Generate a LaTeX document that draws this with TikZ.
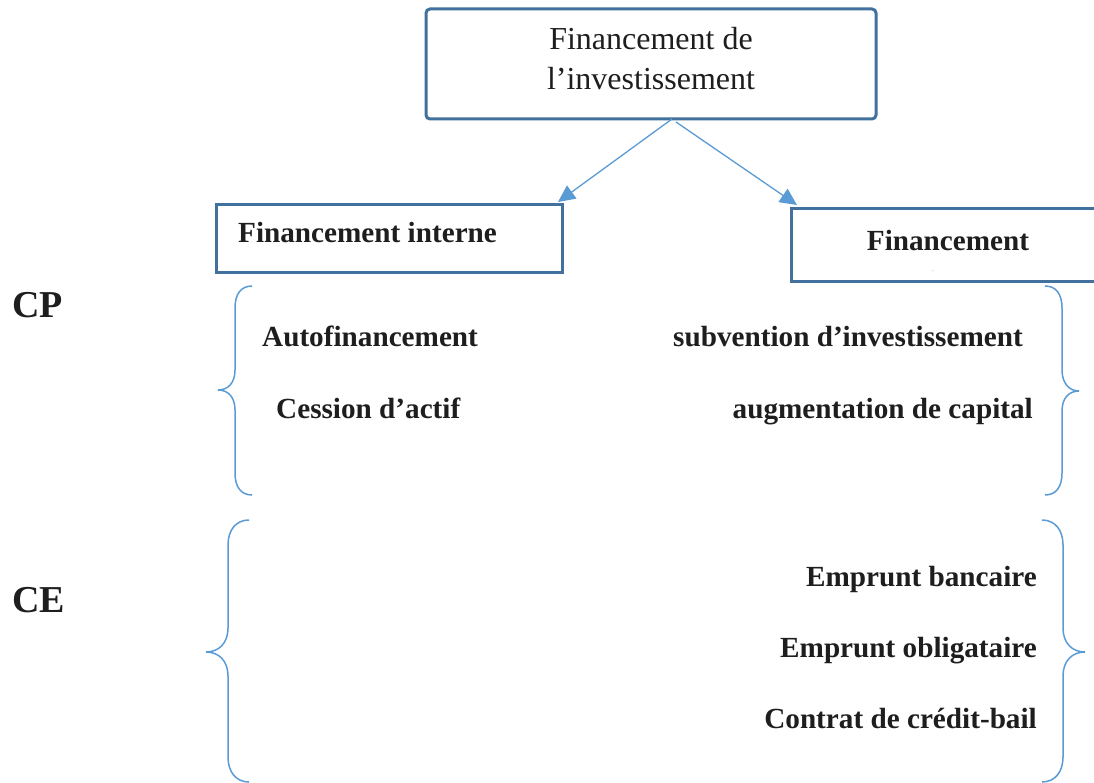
\documentclass[tikz,border=0pt]{standalone}
\usepackage{fontspec}
\setmainfont{Liberation Serif}
\usetikzlibrary{arrows.meta}
\definecolor{boxblue}{RGB}{65,113,156}
\definecolor{lineblue}{RGB}{91,155,213}
\definecolor{txt}{RGB}{30,30,30}
\tikzset{
  frame/.style={draw=boxblue, line width=3pt, outer sep=0pt, inner sep=0pt},
  conn/.style={draw=lineblue, line width=1.3pt, -{Triangle[length=17pt,width=16pt]}},
  brace/.style={draw=lineblue, line width=1.5pt},
  itemtxt/.style={font=\fontsize{29.2}{34}\bfseries\selectfont, text=txt, inner sep=0pt},
  titletxt/.style={font=\fontsize{32}{38}\selectfont, text=txt, inner sep=0pt},
  sidetxt/.style={font=\fontsize{38}{44}\bfseries\selectfont, text=txt, inner sep=0pt}
}
\begin{document}
\begin{tikzpicture}[x=1pt,y=-1pt]
\useasboundingbox (0,0) rectangle (1094,783);
\fill[white] (0,0) rectangle (1094,783);

% boxes
\node[frame, rounded corners=4pt, minimum width=450pt, minimum height=110pt] (top) at (651,64) {};
\node[titletxt, anchor=base] (t1) at (651,50) {Financement de};
\node[titletxt, anchor=base] (t2) at (651,90) {l’investissement};

\node[frame, minimum width=346pt, minimum height=68pt] (left) at (389,239) {};
\node[itemtxt, anchor=base west] (lt) at (238,243) {Financement interne};

\node[frame, minimum width=320pt, minimum height=73pt] (right) at (951,245.5) {};
\node[itemtxt, anchor=base] (rt) at (948,251) {Financement};
\node[font=\fontsize{5}{6}\selectfont, text=txt, inner sep=0pt, anchor=base] (rdot) at (933,272) {.};

% connectors
\draw[conn] ([xshift=21pt]top.south) -- ([xshift=-4pt,yshift=3pt]left.north east);
\draw[conn] ([xshift=25pt,yshift=-3pt]top.south) -- ([xshift=6pt,yshift=4pt]right.north west);

% side labels
\node[sidetxt, anchor=base west] (cp) at (12,318) {CP};
\node[sidetxt, anchor=base west] (ce) at (12,612) {CE};

% CP items
\node[itemtxt, anchor=base west] (a1) at (262,346) {Autofinancement};
\node[itemtxt, anchor=base west] (a2) at (276,418) {Cession d’actif};
\node[itemtxt, anchor=base east] (b1) at (1023,346) {subvention d’investissement};
\node[itemtxt, anchor=base east] (b2) at (1033,418) {augmentation de capital};

% CE items
\node[itemtxt, anchor=base east] (c1) at (1037,586) {Emprunt bancaire};
\node[itemtxt, anchor=base east] (c2) at (1037,657) {Emprunt obligataire};
\node[itemtxt, anchor=base east] (c3) at (1037,728) {Contrat de crédit-bail};

% braces CP
\draw[brace] (252,286) .. controls (241,286) and (235,294) .. (235,308)
  -- (235,370) .. controls (235,383) and (228,390) .. (218,390)
  .. controls (228,390) and (235,397) .. (235,410)
  -- (235,473) .. controls (235,487) and (241,495) .. (252,495);
\draw[brace] (1045,286) .. controls (1056,286) and (1062,294) .. (1062,308)
  -- (1062,370) .. controls (1062,383) and (1069,391) .. (1079,391)
  .. controls (1069,391) and (1062,398) .. (1062,411)
  -- (1062,473) .. controls (1062,487) and (1056,495) .. (1045,495);
% braces CE
\draw[brace] (249,520) .. controls (236,520) and (228,530) .. (228,545)
  -- (228,628) .. controls (228,643) and (219,652) .. (206,652)
  .. controls (219,652) and (228,661) .. (228,676)
  -- (228,757) .. controls (228,772) and (236,782) .. (249,782);
\draw[brace] (1042,520) .. controls (1055,520) and (1063,530) .. (1063,545)
  -- (1063,628) .. controls (1063,643) and (1072,652) .. (1085,652)
  .. controls (1072,652) and (1063,661) .. (1063,676)
  -- (1063,757) .. controls (1063,772) and (1055,782) .. (1042,782);
\end{tikzpicture}
\end{document}
